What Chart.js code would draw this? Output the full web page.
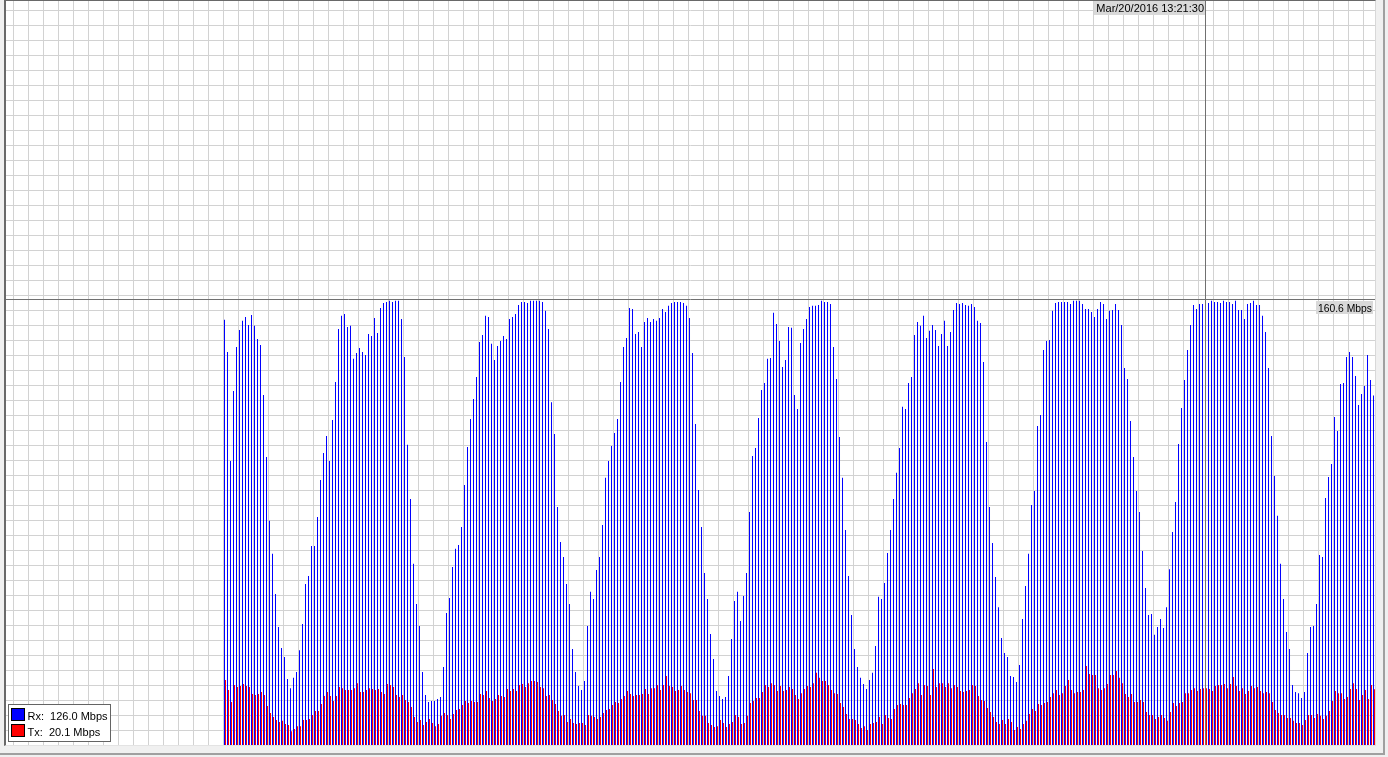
<!DOCTYPE html>
<html>
<head>
<meta charset="utf-8">
<script src="https://cdn.jsdelivr.net/npm/chart.js@4.4.0/dist/chart.umd.min.js"></script>
<style>
  html, body { margin: 0; padding: 0; background: #f0f0f0; width: 1388px; height: 757px; overflow: hidden; }
  #frame { position: absolute; left: 0; top: 0; width: 1383px; height: 753px; border-right: 2px solid #a0a0a0; border-bottom: 2px solid #a0a0a0; }
  #panel { position: absolute; left: 4px; top: 0; width: 1369px; height: 744px; background: #fff;
           border-left: 2px solid #696969; border-top: 1px solid #696969; border-right: 1px solid #d8d8d8; border-bottom: 1px solid #e3e3e3; }
  canvas { display: block; }
</style>
</head>
<body>
<div id="frame"></div>
<div id="panel"><canvas id="graph" width="1369" height="744"></canvas></div>
<script>
// Rx traffic, Mbps, one sample per bar (oldest first)
const rx = [
  153.3, 141.7, 102.4, 127.6, 143.5, 149.6, 152.9, 154.3, 151.4, 155.0,
  151.1, 146.4, 144.2, 126.2, 103.8, 80.8, 68.9, 54.4, 42.5, 35.0,
  31.7, 23.8, 20.5, 24.2, 26.3, 34.2, 43.6, 58.0, 60.9, 71.7,
  71.7, 82.2, 95.5, 105.3, 111.4, 102.4, 117.2, 130.9, 150.0, 154.7,
  155.4, 150.7, 151.1, 139.2, 141.3, 143.1, 141.7, 140.6, 148.2, 147.4,
  153.9, 148.5, 157.5, 159.3, 159.7, 160.1, 159.7, 160.1, 160.1, 153.6,
  139.9, 108.2,
  88.7, 65.3, 50.8, 42.9, 26.3, 18.0, 15.5, 15.9, 15.9, 16.6,
  17.3, 28.1, 47.6, 53.0, 64.2, 70.7, 72.1, 78.6, 93.7, 107.4,
  117.5, 124.7, 132.7, 145.3, 147.8, 154.7, 154.3, 144.6, 138.8, 143.8,
  145.6, 147.4, 146.4, 153.6, 154.3, 155.4, 158.6, 159.7, 159.7, 159.3,
  160.1, 160.1, 160.1, 160.1, 159.7, 156.5, 150.0, 123.6, 112.1, 85.8,
  73.2, 67.8, 58.0, 50.8, 34.6, 26.3, 21.3, 19.8, 23.1, 42.9,
  55.2, 52.6, 63.1, 67.8, 79.3,
  96.3, 102.4, 107.8, 112.5, 117.5, 130.9, 143.5, 146.7, 157.5, 157.2,
  148.2, 148.9, 143.5, 152.5, 153.9, 152.5, 153.6, 152.9, 153.9, 157.2,
  156.1, 158.3, 159.3, 159.7, 159.7, 159.7, 159.3, 158.3, 153.9, 141.3,
  115.7, 91.9, 78.6, 62.0, 52.6, 40.0, 31.0, 19.5, 17.7, 16.6,
  17.3, 24.9, 38.2, 51.9, 55.2, 44.7, 53.7, 62.0, 84.0, 104.2,
  107.1, 117.9, 128.0, 130.5, 139.2, 139.5, 155.8, 151.8, 145.6, 136.3,
  138.8, 150.7, 150.4, 126.2, 121.1,
  144.9, 150.0, 153.6, 157.9, 158.3, 158.3, 158.6, 160.1, 159.7, 159.7,
  159.0, 143.5, 131.9, 111.0, 96.3, 77.5, 60.9, 46.9, 34.6, 28.1,
  24.2, 22.0, 20.2, 23.4, 26.0, 35.7, 53.4, 52.6, 58.4, 69.2,
  77.5, 88.7, 98.1, 107.1, 121.9, 121.1, 130.5, 132.7,
  147.8, 152.5, 151.1, 154.7, 146.7, 149.3, 151.4, 149.6, 143.8, 148.2,
  152.9, 143.8, 148.9, 156.8, 159.3, 159.0, 159.3, 158.6, 158.3, 159.0,
  157.9, 152.9, 152.1, 138.1, 109.2, 85.8, 72.8,
  60.6, 49.7, 38.6, 33.2, 31.7, 24.9, 24.5, 22.7, 28.8, 45.4,
  57.3, 68.9, 86.5, 91.6, 115.0, 119.0, 142.4, 145.6, 146.0, 156.5,
  159.3, 159.7, 159.7, 159.7, 159.7, 159.0, 160.1, 160.1, 160.1, 159.0,
  157.2, 157.2, 156.1, 154.3, 157.2, 159.7, 159.0, 153.6, 156.5, 156.8,
  159.0, 156.8, 151.4, 135.9, 131.9, 116.8, 103.8, 91.6, 84.0, 69.9,
  56.6, 46.9, 47.2, 39.7, 42.5, 45.4, 42.2, 49.7, 63.4, 76.8,
  87.6, 108.5, 121.5, 131.6, 142.4,
  151.4, 158.6, 157.2, 159.0, 159.0, 159.7, 159.3, 160.1, 159.7, 159.7,
  159.3, 160.1, 159.7, 159.7, 159.0, 160.1, 156.8, 156.8, 153.6, 159.0,
  159.3, 160.1, 158.6, 158.6, 154.7, 148.9, 135.9, 111.4, 97.0, 82.6,
  65.3, 52.6, 40.7, 34.6, 21.6, 19.1, 18.7, 16.9, 19.1, 33.2,
  42.5, 42.9, 50.8, 68.5, 67.8, 89.0, 96.6, 101.3, 118.2, 113.2,
  130.1, 130.5, 139.9, 141.7, 139.9, 133.0, 122.6, 126.5, 129.4, 140.6,
  131.6, 126.0
];

// Tx traffic, Mbps
const tx = [
  23.4, 19.8, 15.5, 21.6, 20.9, 21.3, 22.0, 21.3, 20.9, 18.4,
  18.0, 18.4, 19.1, 18.0, 14.1, 11.5, 10.1, 9.0, 8.3, 8.7,
  7.6, 7.2, 5.0, 5.8, 6.8, 6.8, 9.0, 9.0, 9.4, 10.8,
  12.3, 12.3, 14.8, 17.7, 19.1, 17.7, 15.9, 17.7, 20.9, 20.5,
  19.8, 19.8, 19.8, 20.5, 22.3, 19.1, 19.1, 19.8, 20.5, 20.2,
  19.8, 20.2, 19.1, 18.4, 22.0, 21.6, 20.9, 18.0, 17.3, 18.0,
  16.2, 15.5,
  13.7, 10.1, 8.3, 9.0, 7.2, 8.3, 9.4, 7.9, 6.8, 7.6,
  10.5, 11.5, 10.8, 9.4, 11.2, 12.6, 13.0, 14.4, 15.9, 15.1,
  15.9, 15.5, 15.5, 18.4, 18.0, 19.5, 16.9, 15.9, 16.6, 18.0,
  17.7, 17.3, 20.2, 19.5, 20.2, 19.5, 21.6, 22.0, 20.9, 22.3,
  23.1, 23.1, 22.7, 20.9, 20.5, 17.7, 18.0, 16.2, 14.8, 12.3,
  10.5, 10.8, 8.3, 9.4, 7.9, 7.6, 7.9, 7.9, 7.2, 10.8,
  10.5, 10.1, 9.4, 10.1, 11.5,
  12.6, 13.0, 14.4, 15.5, 15.1, 16.6, 17.7, 19.5, 18.4, 17.7,
  18.0, 18.0, 18.4, 20.2, 18.4, 20.5, 20.5, 21.6, 19.8, 21.6,
  24.9, 21.3, 20.9, 19.5, 19.8, 21.3, 19.8, 19.1, 18.7, 16.2,
  16.2, 12.3, 10.5, 10.5, 7.9, 7.2, 6.5, 6.8, 9.0, 7.9,
  6.5, 7.6, 8.3, 10.8, 10.1, 7.6, 7.9, 10.5, 15.1, 15.9,
  16.9, 16.9, 19.1, 21.6, 20.9, 22.3, 21.6, 19.5, 21.3, 19.5,
  19.8, 20.9, 20.2, 18.0, 16.6,
  18.7, 20.2, 21.3, 20.9, 22.3, 26.0, 24.2, 23.1, 23.1, 21.6,
  19.8, 18.7, 18.4, 15.1, 13.7, 11.2, 9.4, 9.4, 9.0, 7.6,
  6.1, 6.8, 5.4, 7.6, 7.9, 8.3, 10.1, 7.6, 10.8, 9.7,
  9.4, 13.0, 14.4, 14.8, 14.4, 14.4, 16.9, 18.7, 20.2, 22.3,
  18.0, 21.6, 21.3, 18.0, 27.4, 20.9, 22.3, 22.3, 20.9, 22.3,
  20.5, 21.6, 20.9, 19.5, 19.1, 19.5, 19.8, 21.6, 21.3, 17.7,
  16.2, 15.9, 13.3, 11.9, 10.1,
  8.3, 7.6, 9.0, 7.6, 9.4, 8.3, 5.4, 6.5, 5.8, 7.6,
  8.7, 11.2, 13.0, 12.3, 14.8, 14.4, 15.1, 15.5, 17.3, 18.7,
  19.8, 18.0, 18.7, 21.3, 23.4, 19.8, 18.7, 19.1, 19.1, 19.8,
  28.5, 25.6, 25.2, 25.2, 20.5, 19.8, 20.5, 22.0, 25.2, 25.2,
  26.7, 24.2, 22.3, 18.4, 17.3, 18.4, 15.5, 15.5, 16.2, 15.5,
  11.9, 10.8, 10.8, 9.4, 10.1, 10.8, 9.7, 8.7, 11.9, 15.1,
  14.1, 15.1, 15.5, 18.7, 18.7,
  19.8, 20.5, 19.5, 20.2, 20.5, 20.5, 20.2, 19.5, 21.3, 21.6,
  21.6, 22.0, 20.5, 22.0, 24.5, 21.3, 19.5, 20.5, 18.4, 19.5,
  21.3, 20.5, 20.9, 19.5, 18.7, 19.1, 18.7, 15.5, 12.6, 11.5,
  10.8, 10.8, 9.7, 9.7, 8.7, 7.9, 7.9, 7.2, 9.0, 10.8,
  10.8, 9.7, 11.2, 10.5, 9.4, 10.5, 12.3, 15.9, 19.5, 18.7,
  18.7, 16.6, 17.3, 20.2, 22.3, 20.2, 16.2, 18.0, 19.8, 16.6,
  21.6, 20.1
];

// crosshair (mouse position) shown in the graph
const cursorIndex = 327;
const cursorTime = 'Mar/20/2016 13:21:30';
const cursorValue = 160.6;

// view window: samples scroll in from the right, empty space on the left
const X_MIN = -73;
const X_MAX = 383.33;
const Y_MAX = 268.2;
const GRID = 15; // px between grid lines

const FONT = '11px "Liberation Sans", Arial, sans-serif';

const overlay = {
  id: 'overlay',
  afterDatasetsDraw(chart) {
    const { ctx, chartArea: a, scales: { x, y } } = chart;
    const cx = Math.floor(x.getPixelForValue(cursorIndex)) - 0.5;
    const cy = Math.floor(y.getPixelForValue(cursorValue)) + 0.5;
    ctx.save();
    ctx.strokeStyle = '#707070';
    ctx.lineWidth = 1;
    ctx.beginPath();
    ctx.moveTo(cx, a.top);
    ctx.lineTo(cx, a.bottom);
    ctx.moveTo(a.left, cy);
    ctx.lineTo(a.right, cy);
    ctx.stroke();

    ctx.font = FONT;
    ctx.textBaseline = 'alphabetic';
    // time label, left of the vertical line
    ctx.fillStyle = '#d9d9d9';
    ctx.fillRect(cx - 111.5, 0, 111, 14);
    ctx.fillStyle = '#000';
    ctx.textAlign = 'right';
    ctx.fillText(cursorTime, cx - 1.5, 11, 108);
    // value label, under the horizontal line at the right edge
    const vText = cursorValue.toFixed(1) + ' Mbps';
    ctx.fillStyle = '#d9d9d9';
    ctx.fillRect(a.right - 59, cy + 1.5, 57, 13);
    ctx.fillStyle = '#000';
    ctx.fillText(vText, a.right - 3, cy + 12, 54);
    ctx.restore();
  },
  afterDraw(chart) {
    const { ctx, chartArea: a } = chart;
    const sets = chart.data.datasets;
    const bx = a.left + 2.5, by = a.bottom - 40.5;
    ctx.save();
    ctx.fillStyle = '#fff';
    ctx.fillRect(bx, by, 102, 37);
    ctx.strokeStyle = '#646464';
    ctx.lineWidth = 1;
    ctx.strokeRect(bx, by, 102, 37);
    ctx.font = FONT;
    ctx.textAlign = 'left';
    sets.forEach((ds, i) => {
      const top = by + 4 + i * 16;
      ctx.fillStyle = ds.backgroundColor;
      ctx.fillRect(bx + 3, top, 13, 12);
      ctx.strokeStyle = '#000';
      ctx.strokeRect(bx + 3, top, 13, 12);
      const last = ds.data[ds.data.length - 1].y;
      ctx.fillStyle = '#000';
      ctx.fillText(ds.label + ':  ' + last.toFixed(1) + ' Mbps', bx + 19, top + 11);
    });
    ctx.restore();
  }
};

const chart = new Chart(document.getElementById('graph'), {
  type: 'bar',
  data: {
    datasets: [
      { label: 'Rx', data: rx.map((v, i) => ({ x: i, y: v })), backgroundColor: '#0000ff' },
      { label: 'Tx', data: tx.map((v, i) => ({ x: i, y: v })), backgroundColor: '#ff0000' }
    ]
  },
  options: {
    responsive: false,
    animation: false,
    events: [],
    layout: { padding: 0, autoPadding: false },
    datasets: {
      bar: { barThickness: 1, inflateAmount: 0, borderWidth: 0 }
    },
    plugins: {
      legend: { display: false },
      tooltip: { enabled: false }
    },
    scales: {
      x: {
        type: 'linear',
        min: X_MIN,
        max: X_MAX,
        offset: false,
        grid: { color: '#d2d2d2', drawTicks: false, offset: false },
        border: { display: false },
        ticks: { display: false },
        afterBuildTicks: (s) => {
          // one grid line every 15px (5 samples)
          const t = [];
          for (let v = X_MIN + 2.5; v < X_MAX; v += GRID / 3) t.push({ value: v });
          s.ticks = t;
        }
      },
      y: {
        min: 0,
        max: Y_MAX,
        grid: { color: '#d2d2d2', drawTicks: false },
        border: { display: false },
        ticks: { display: false },
        afterBuildTicks: (s) => {
          const h = s.chart.height;
          const t = [];
          for (let m = 1; m * GRID < h; m++) t.push({ value: (m * GRID - 0.5) * Y_MAX / h });
          s.ticks = t;
        }
      }
    }
  },
  plugins: [overlay]
});
</script>
</body>
</html>
